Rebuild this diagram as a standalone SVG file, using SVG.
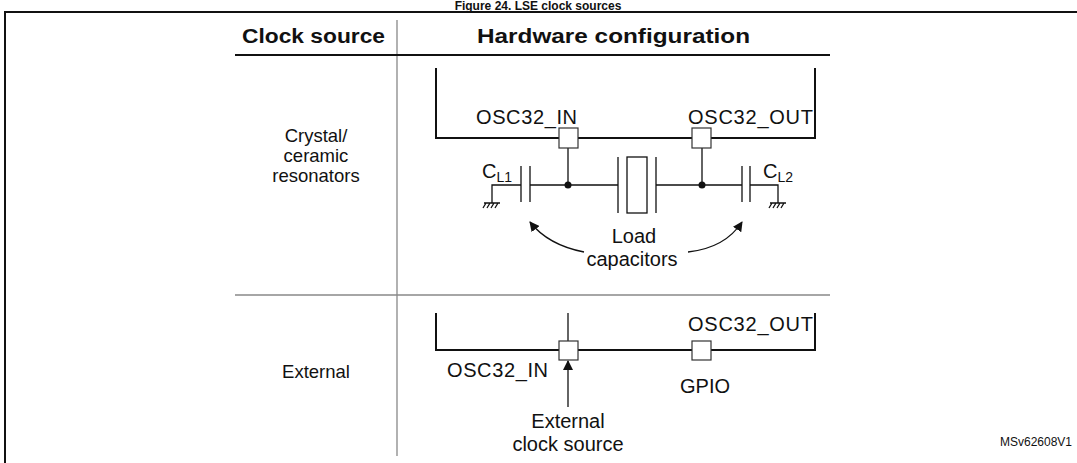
<svg xmlns="http://www.w3.org/2000/svg" width="1077" height="463" viewBox="0 0 1077 463">
<style>
text{font-family:"Liberation Sans",Arial,sans-serif;font-size:20px;fill:#111}
.b{font-weight:bold;font-size:20px}
.c{text-anchor:middle}
.l{font-size:18.5px}
.w{stroke:#111;stroke-width:1.3;fill:none}
.t{stroke:#111;stroke-width:2;fill:none}
.g{stroke:#888;stroke-width:1.3;fill:none}
.p{fill:#fff;stroke:#333;stroke-width:1.2}
</style>
<defs><marker id="ah" markerWidth="10" markerHeight="10" refX="9" refY="5" orient="auto" markerUnits="userSpaceOnUse"><path d="M0,0 L10,5 L0,10 Z" fill="#111"/></marker></defs>
<rect width="1077" height="463" fill="#fff"/>
<text class="b c" x="538" y="10" style="font-size:12px">Figure 24. LSE clock sources</text>
<path class="t" d="M5,470 V12 H1080"/>
<g id="table">
<line class="g" x1="397" y1="20" x2="397" y2="456"/>
<line class="t" x1="235" y1="55" x2="830" y2="55"/>
<line class="g" x1="235" y1="295" x2="830" y2="295"/>
<text class="b" x="242" y="43" textLength="143" lengthAdjust="spacingAndGlyphs">Clock source</text>
<text class="b" x="477" y="43" textLength="273" lengthAdjust="spacingAndGlyphs">Hardware configuration</text>
<text class="c l" x="316" y="142">Crystal/</text>
<text class="c l" x="316" y="162">ceramic</text>
<text class="c l" x="316" y="182">resonators</text>
<text class="c l" x="316" y="378">External</text>
</g>
<g id="connectors">
<path class="t" d="M436,68 V138 H815 V68"/>
<path class="w" d="M568,148 V185 M702,148 V185 M530,185 H618 M656,185 H742 M521,185 H492 V203 M750,185 H778 V203"/>
<path class="w" d="M521,166 V202 M530,166 V202 M618,157 V213 M656,157 V213 M742,166 V202 M750,166 V202"/>
<rect class="w" x="627" y="157" width="20" height="56"/>
<path class="w" d="M484,203 H500 M486,203 l-3,5 M490,203 l-3,5 M494,203 l-3,5 M498,203 l-3,5 M770,203 H786 M772,203 l-3,5 M776,203 l-3,5 M780,203 l-3,5 M784,203 l-3,5"/>
<circle cx="568" cy="185" r="3.5" fill="#111"/>
<circle cx="702" cy="185" r="3.5" fill="#111"/>
<path class="w" d="M584,252 Q548,245 530,222" marker-end="url(#ah)"/>
<path class="w" d="M688,252 Q725,248 742,222" marker-end="url(#ah)"/>
<path class="t" d="M436,313 V350 H815 V313"/>
<path class="w" d="M568,313 V341"/>
<path class="w" d="M568,407 V361" marker-end="url(#ah)"/>
</g>
<g id="pins">
<rect class="p" x="559" y="128" width="19" height="20"/>
<rect class="p" x="692" y="128" width="19" height="20"/>
<rect class="p" x="559" y="341" width="19" height="19"/>
<rect class="p" x="692" y="341" width="19" height="19"/>
</g>
<g id="labels">
<text x="476" y="124" textLength="101">OSC32_IN</text>
<text x="688" y="124" textLength="125">OSC32_OUT</text>
<text x="482" y="178">C<tspan dy="4" style="font-size:14px">L1</tspan></text>
<text x="763" y="178">C<tspan dy="4" style="font-size:14px">L2</tspan></text>
<text class="c" x="634" y="243">Load</text>
<text class="c" x="632" y="266">capacitors</text>
<text x="688" y="331" textLength="125">OSC32_OUT</text>
<text x="447" y="377" textLength="101">OSC32_IN</text>
<text x="680" y="393">GPIO</text>
<text class="c" x="568" y="428">External</text>
<text class="c" x="568" y="451">clock source</text>
<text x="1000" y="446" style="font-size:12px">MSv62608V1</text>
</g>
</svg>
